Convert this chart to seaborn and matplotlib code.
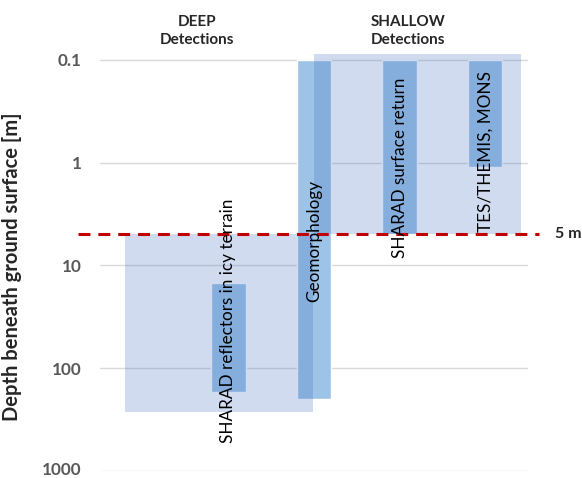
import matplotlib
matplotlib.use("Agg")
import matplotlib.pyplot as plt
import matplotlib.transforms as mtransforms
import seaborn as sns
import numpy as np

# depth ranges [m] for each detection method (top, bottom)
methods = ["", "SHARAD reflectors in icy terrain", "Geomorphology",
           "SHARAD surface return", "TES/THEMIS, MONS"]
depth_top = [np.nan, 15, 0.1, 0.1, 0.1]
depth_bottom = [np.nan, 170, 200, 5, 1.1]

# grouped regions (deep / shallow)
groups = ["DEEP\nDetections", "SHALLOW\nDetections"]
group_top = [5, 0.087]
group_bottom = [270, 5]

threshold = 5
yticks = [0.1, 1, 10, 100, 1000]
ytick_labels = ["0.1", "1", "10", "100", "1000"]

sns.set_style("white")
plt.rcParams['font.family'] = ['Lato', 'DejaVu Sans']

fig = plt.figure(figsize=(5.82, 4.78), dpi=100)
ax = fig.add_axes([100/582, 1-470.7/478, 428/582, 420.7/478])

x = np.arange(len(methods))
top = np.array(depth_top)
bot = np.array(depth_bottom)
ax.bar(x, bot - top, bottom=top, width=0.4, color="#9DC3E6", zorder=2)

# translucent group boxes
group_x = [(-0.21, 1.99), (2.0, 4.42)]
for (x0, x1), t, b in zip(group_x, group_top, group_bottom):
    ax.fill_between([x0, x1], t, b, color="#4472C4", alpha=0.25, lw=0, zorder=3)

ax.set_yscale("log")
ax.set_ylim(1000, 0.08)
ax.set_xlim(-0.5, 4.5)
ax.set_yticks(yticks)
ax.set_yticklabels(ytick_labels, fontsize=12.3, fontweight="bold", color="#595959",
                   va="center_baseline")
ax.yaxis.set_minor_locator(matplotlib.ticker.NullLocator())
ax.tick_params(axis="y", length=0, pad=13)
ax.set_xticks([])
ax.yaxis.grid(True, color="#D9D9D9", lw=1)
ax.set_axisbelow(True)
for s in ax.spines.values():
    s.set_visible(False)

# nudge the bottom label up a touch so it stays inside the canvas
last = ax.get_yticklabels()[-1]
last.set_transform(last.get_transform() +
                   mtransforms.ScaledTranslation(0, 2/100, fig.dpi_scale_trans))

ax.set_ylabel("Depth beneath ground surface [m]", fontsize=14.5, fontweight="bold")
ax.yaxis.set_label_coords(-0.182, 0.484)

# threshold line
ax.plot([-0.757, 4.63], [threshold, threshold], ls=(0, (3.9, 2.6)), color="#C00000",
        lw=2.2, clip_on=False, zorder=4)
ax.text(4.815, threshold, "5 m", fontsize=11.5, fontweight="bold", va="center",
        ha="left")

# method labels inside bars
label_y = [None, 35, 5.77, 1.12, 0.785]
for xi, name, ly in zip(x, methods, label_y):
    if name:
        ax.text(xi, ly, name, rotation=90, ha="center", va="center", fontsize=12.3,
                color="black", zorder=5)

# group headers
for gx, g in zip([197, 408], groups):
    fig.text(gx/582, 1-31/478, g, ha="center", va="center", fontsize=11,
             fontweight="bold", linespacing=1.35)

fig.savefig("out.png", dpi=100)
